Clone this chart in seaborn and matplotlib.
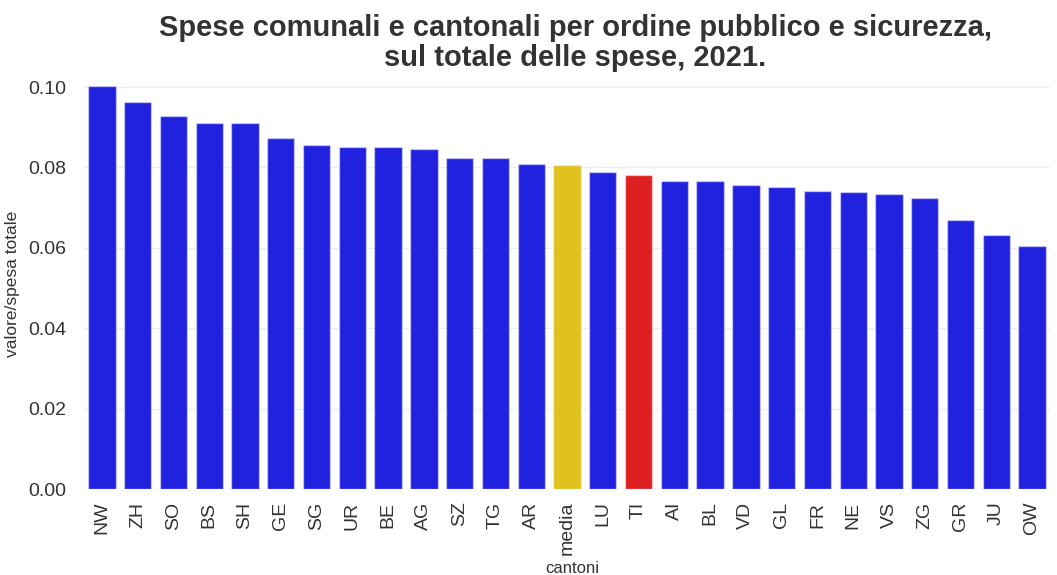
import matplotlib
matplotlib.use("Agg")
import matplotlib.pyplot as plt
import pandas as pd
import seaborn as sns

# valori
cantoni = ["NW", "ZH", "SO", "BS", "SH", "GE", "SG", "UR", "BE", "AG", "SZ", "TG", "AR",
           "media", "LU", "TI", "AI", "BL", "VD", "GL", "FR", "NE", "VS", "ZG", "GR", "JU", "OW"]
valori = [0.1002, 0.0964, 0.0928, 0.0911, 0.0911, 0.0872, 0.0857, 0.0851, 0.0851, 0.0846,
          0.0824, 0.0824, 0.0808, 0.0805, 0.0788, 0.0781, 0.0766, 0.0766, 0.0757, 0.0752,
          0.0742, 0.0740, 0.0733, 0.0725, 0.0670, 0.0633, 0.0604]

BLU = "#2121e0"
GIALLO = "#dfc220"
ROSSO = "#df2020"

df = pd.DataFrame({"cantoni": cantoni, "valore": valori})
colori = {c: BLU for c in cantoni}
colori["media"] = GIALLO
colori["TI"] = ROSSO

sns.set_theme(style="whitegrid")
plt.rcParams["font.family"] = ["Liberation Sans", "DejaVu Sans"]

fig = plt.figure(figsize=(10.57, 5.75), dpi=100)
ax = fig.add_axes([84 / 1057, 86 / 575, 966 / 1057, 410 / 575])

sns.barplot(data=df, x="cantoni", y="valore", hue="cantoni", palette=colori, saturation=1,
            legend=False, width=0.765, edgecolor=(1, 1, 1, 0.45), linewidth=1, ax=ax)

ax.set_ylim(0, 0.1020)
ax.set_xlim(-0.5, len(cantoni) - 0.5)
ax.set_yticks([0, 0.02, 0.04, 0.06, 0.08, 0.10])
ax.set_yticklabels(["0.00", "0.02", "0.04", "0.06", "0.08", "0.10"], fontsize=14, color="#333333")
ax.tick_params(axis="x", labelrotation=90, labelsize=14, labelcolor="#333333", pad=3)
ax.tick_params(axis="y", pad=7)
for lab in ax.get_xticklabels():
    lab.set_va("top")
ax.grid(axis="y", color="#eeeeee", linewidth=1)
ax.grid(axis="x", visible=False)
for s in ax.spines.values():
    s.set_visible(False)

ax.set_xlabel("cantoni", fontsize=12, color="#333333")
ax.xaxis.set_label_coords(0.505, -0.176)
ax.set_ylabel("valore/spesa totale", fontsize=12.5, color="#333333")
ax.yaxis.set_label_coords(-0.066, 0.5)

fig.text(0.544, 0.976, "Spese comunali e cantonali per ordine pubblico e sicurezza,\nsul totale delle spese, 2021.",
         ha="center", va="top", fontsize=21, fontweight="bold", color="#333333", linespacing=1.1)

fig.savefig("out.png", dpi=100)
